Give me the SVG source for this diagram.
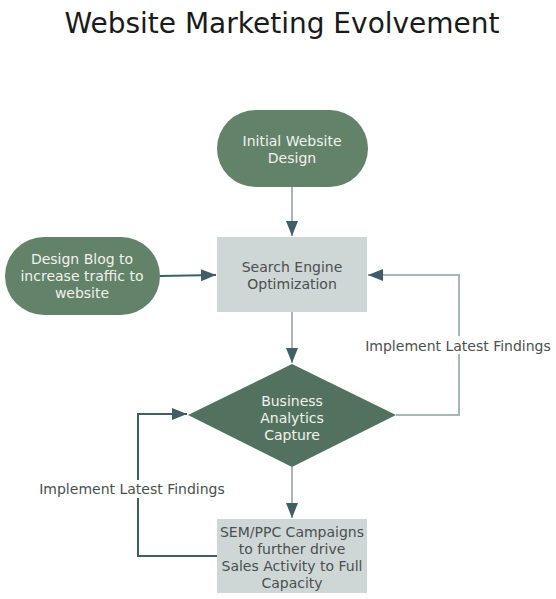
<svg xmlns="http://www.w3.org/2000/svg" width="556" height="599" viewBox="0 0 556 599">
<style>
.t{font-family:"DejaVu Sans",Verdana,sans-serif;font-size:14px;text-anchor:middle}
.w{fill:#f2f2ec}
.g{fill:#4a4f50}
.lbl{font-family:"DejaVu Sans",Verdana,sans-serif;font-size:14px;fill:#4a4f50;text-anchor:middle}
.lt{fill:none;stroke:#a7b6b9;stroke-width:2}
.dk{fill:none;stroke:#3f5e66;stroke-width:2}
</style>
<defs>
<marker id="ah2" markerWidth="15" markerHeight="12" viewBox="0 0 15 12" refX="15" refY="6" orient="auto" markerUnits="userSpaceOnUse">
<path d="M0,0 L15,6 L0,12 Z" fill="#3f5e66"/>
</marker>
</defs>
<rect width="556" height="599" fill="#ffffff"/>
<text x="282" y="33" font-family="'DejaVu Sans',Verdana,sans-serif" font-size="28" fill="#1a1a1a" text-anchor="middle">Website Marketing Evolvement</text>
<g id="connectors">
<line class="lt" x1="292" y1="187" x2="292" y2="236" marker-end="url(#ah2)"/>
<line class="dk" x1="160" y1="276" x2="216" y2="275" marker-end="url(#ah2)"/>
<line class="lt" x1="292" y1="312" x2="292" y2="363" marker-end="url(#ah2)"/>
<polyline class="lt" points="396,415 459,415 459,275 368,275" marker-end="url(#ah2)"/>
<line class="lt" x1="292" y1="467" x2="292" y2="518" marker-end="url(#ah2)"/>
<polyline class="dk" points="217,556 138,556 138,414 187,414" marker-end="url(#ah2)"/>
<rect x="362" y="336" width="192" height="18" fill="#ffffff"/>
<text class="lbl" x="458" y="351">Implement Latest Findings</text>
<rect x="36" y="480" width="194" height="18" fill="#ffffff"/>
<text class="lbl" x="132" y="494">Implement Latest Findings</text>
</g>
<g id="initial">
<rect x="217" y="110" width="151" height="77" rx="38.5" fill="#62826a"/>
<text class="t w" x="292" y="146">Initial Website</text>
<text class="t w" x="292" y="163">Design</text>
</g>
<g id="seo">
<rect x="217" y="237" width="150" height="75" fill="#cfd7d6"/>
<text class="t g" x="292" y="272">Search Engine</text>
<text class="t g" x="292" y="289">Optimization</text>
</g>
<g id="blog">
<rect x="5" y="237" width="155" height="78" rx="39" fill="#62826a"/>
<text class="t w" x="82" y="264">Design Blog to</text>
<text class="t w" x="82" y="281">increase traffic to</text>
<text class="t w" x="82" y="298">website</text>
</g>
<g id="analytics">
<polygon points="292,364 396,415 292,467 188,415" fill="#52725f"/>
<text class="t w" x="292" y="406">Business</text>
<text class="t w" x="292" y="423">Analytics</text>
<text class="t w" x="292" y="440">Capture</text>
</g>
<g id="sem">
<rect x="217" y="519" width="150" height="74" fill="#cfd7d6"/>
<text class="t g" x="292" y="537">SEM/PPC Campaigns</text>
<text class="t g" x="292" y="554">to further drive</text>
<text class="t g" x="292" y="571">Sales Activity to Full</text>
<text class="t g" x="292" y="588">Capacity</text>
</g>
</svg>
